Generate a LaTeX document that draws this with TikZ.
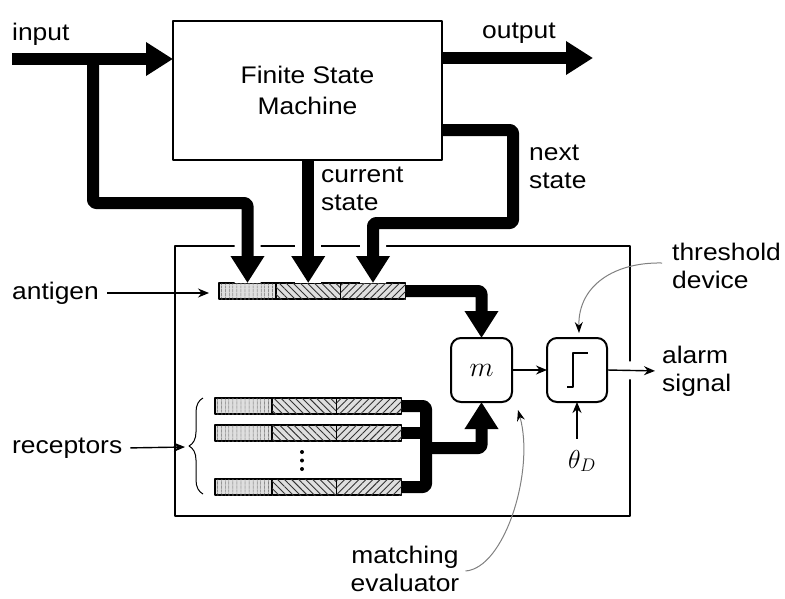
\RequirePackage{fix-cm}
\documentclass[tikz,border=0pt]{standalone}
\usepackage{fontspec}
\setmainfont{Liberation Sans}[FakeStretch=1.1]
\usetikzlibrary{arrows.meta,patterns.meta,decorations.pathreplacing,positioning}

\tikzset{
  box/.style={draw, line width=2pt, inner sep=0pt, outer sep=0pt},
  rbox/.style={box, rounded corners=10pt, minimum width=61pt, minimum height=64pt},
  lbl/.style={inner sep=2pt, align=left, font=\fontsize{24}{28}\selectfont},
  cell/.style={draw, line width=1.3pt, fill=gray!25, minimum height=16pt, inner sep=0pt, outer sep=0pt},
  cellA/.style={cell, minimum width=57pt, postaction={pattern={Lines[angle=90,distance=4pt,line width=0.9pt]}, pattern color=black!80}},
  cellB/.style={cell, minimum width=64.5pt, postaction={pattern={Lines[angle=-45,distance=5pt,line width=0.9pt]}, pattern color=black!80}},
  cellC/.style={cell, minimum width=65pt, postaction={pattern={Lines[angle=45,distance=5pt,line width=0.9pt]}, pattern color=black!80}},
  bus/.style={line width=12pt, rounded corners=3pt},
  bigarrow/.style={bus, -{Triangle[width=32pt,length=27pt]}},
  gap/.style={preaction={draw=white, line width=26pt, -, shorten <=4pt}},
  thin/.style={line width=1.4pt, -{Stealth[length=11pt,width=9pt]}},
  hint/.style={draw=gray, line width=1pt, -{Stealth[length=11pt,width=8pt,black]}}
}

\begin{document}
\begin{tikzpicture}[x=1pt, y=-1pt, line join=round]
\useasboundingbox (0,0) rectangle (785,598);

% blocks
\node[box, minimum width=455pt, minimum height=270pt] (det) at (402.5,381) {};
\node[box, minimum width=269pt, minimum height=139pt, align=center,
      font=\fontsize{24}{31}\selectfont] (fsm) at (307.5,90) {Finite State\\Machine};
\node[rbox, font=\fontsize{28}{30}\selectfont] (m) at (481.5,370) {$m$};
\node[rbox, minimum width=60pt] (th) at (577,370) {};
\draw[line width=2pt] (567,387) -- (573,387) -- (573,353) -- (588,353);

% antigen string
\node[cellA] (ag1) at (247.5,291) {};
\node[cellB, right=0pt of ag1] (ag2) {};
\node[cellC, right=0pt of ag2] (ag3) {};

% receptor strings
\foreach \n/\y in {1/406, 2/433, 3/487} {
  \node[cellA] (r\n-a) at (243.5,\y) {};
  \node[cellB, right=0pt of r\n-a] (r\n-b) {};
  \node[cellC, right=0pt of r\n-b] (r\n-c) {};
}
\foreach \y in {452,460.5,469} \fill (302,\y) circle[radius=2pt];

% state machine links
\coordinate (in) at (12,59);
\coordinate (inbr) at (93,59);
\coordinate (intn) at (93,203);
\coordinate (out) at (593,58);
\coordinate (nsa) at (442,130);
\coordinate (nsb) at (513,223);
\draw[bigarrow, gap] (inbr) -- (intn) -| (ag1.north);
\draw[bigarrow] (in) -- (in -| fsm.west);
\draw[bigarrow] (out -| fsm.east) -- (out);
\draw[bigarrow, gap] (ag2.north |- fsm.south) -- (ag2.north);
\draw[bigarrow, gap] (nsa) -| (nsb) -| (ag3.north);

% matching and threshold
\coordinate (bus) at (426,448);
\draw[bigarrow] (ag3.east) -| (m.north);
\draw[bus] (r1-c.east) -| (bus) |- (r3-c.east);
\draw[bus] (r2-c.east) -- (r2-c.east -| bus);
\draw[bigarrow] (bus) -| (m.south);
\draw[thin] (m.east) -- (th.west);

% labels
\node[lbl, anchor=base west] (inl) at (10,40) {input};
\node[lbl, anchor=base west] (outl) at (480,38) {output};
\node[lbl, anchor=west] (csl) at (319,189) {current\\state};
\node[lbl, anchor=west] (nsl) at (527,167) {next\\state};
\node[lbl, anchor=west] (agl) at (10,293) {antigen};
\node[lbl, anchor=west] (rcl) at (10,448) {receptors};
\node[lbl, anchor=west] (thdl) at (670,266) {threshold\\device};
\node[lbl, anchor=west] (alarm) at (660,371) {alarm\\signal};
\node[lbl, align=center] (mel) at (405,569) {matching\\evaluator};
\node[inner sep=1pt, font=\fontsize{26}{28}\selectfont] (thD) at (582,461) {$\theta_D$};

\draw[thin, shorten <=6pt, shorten >=10pt] (agl.east) -- (agl.east -| ag1.west);
\draw[line width=1pt, decorate, decoration={brace, amplitude=14pt}] (203,494) -- (203,398);
\coordinate (brc) at (185,447);
\draw[thin, shorten <=6pt] (rcl.east) -- (brc);
\draw[thin, shorten >=5pt, preaction={draw=white, line width=18pt, -, shorten <=10pt}] (th.east) -- (alarm.west);
\draw[thin, shorten <=10pt] (th.south |- thD.north) -- (th.south);
\draw[hint] ([shift={(-8,-3)}]thdl.west) .. controls (615,262) and (578,285) .. ([shift={(2,-5)}]th.north);
\draw[hint] ([shift={(4,2)}]mel.east) .. controls (505,568) and (535,470) .. ([shift={(6,8)}]m.south east);
\end{tikzpicture}
\end{document}
